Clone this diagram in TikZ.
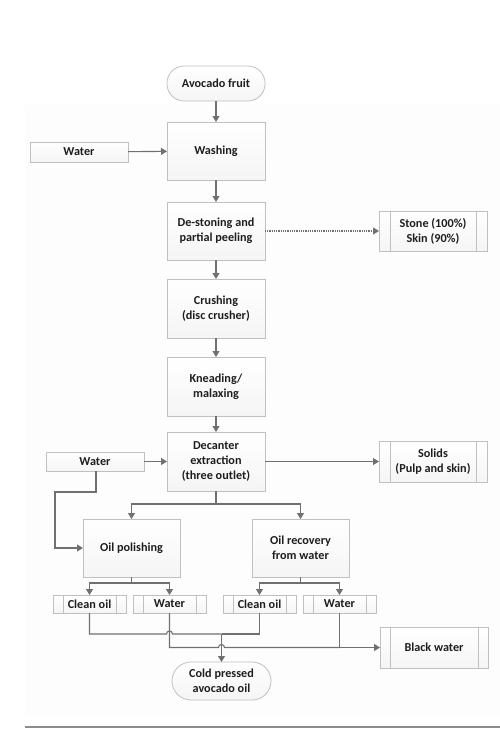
\documentclass[tikz,border=0pt]{standalone}
\usepackage{fontspec}
\setmainfont{Carlito}
\usetikzlibrary{arrows.meta,positioning}
\definecolor{lin}{HTML}{707070}
\definecolor{bord}{HTML}{C0C0C0}
\definecolor{txt}{HTML}{1E1E1E}
\definecolor{bg}{HTML}{FDFDFD}
\tikzset{
  base/.style={draw=bord, line width=0.8pt, top color=white, bottom color=black!4,
    align=center, text=txt, font=\fontsize{12.2}{15}\selectfont\bfseries,
    inner sep=0pt, outer sep=0pt},
  proc/.style={base, minimum width=98pt, minimum height=58pt},
  term/.style={base, rounded corners=17pt, minimum width=98pt, minimum height=35pt},
  inbox/.style={base, minimum width=98pt, minimum height=20pt},
  pred/.style={base, path picture={
      \draw[bord, line width=0.8pt] ([xshift=#1]path picture bounding box.north west) -- ([xshift=#1]path picture bounding box.south west);
      \draw[bord, line width=0.8pt] ([xshift=-#1]path picture bounding box.north east) -- ([xshift=-#1]path picture bounding box.south east);}},
  flow/.style={draw=lin, line width=1.1pt},
  arr/.style={flow, -{Triangle[length=6pt,width=7pt]}},
}
\begin{document}
\begin{tikzpicture}[x=1pt,y=-1pt]
\useasboundingbox (0,0) rectangle (500,729);
\fill[bg] (25,105) rectangle (500,716);
\draw[black!45, line width=1.2pt] (25,727) -- (500,727);

% main column
\node[term] (fruit) at (216,83.5) {Avocado fruit};
\node[proc] (wash) at (216,151) {Washing};
\node[inbox] (water1) at (79,152) {Water};
\node[proc] (destone) at (216,231) {De-stoning and\\partial peeling};
\node[pred=11pt, minimum width=108pt, minimum height=40pt] (stone) at (433,231) {Stone (100\%)\\Skin (90\%)};
\node[proc, minimum height=59pt] (crush) at (216,308.5) {Crushing\\(disc crusher)};
\node[proc, minimum height=59pt] (knead) at (216,386.5) {Kneading/\\malaxing};
\node[proc, minimum height=59pt] (decant) at (216,461.5) {Decanter\\extraction\\(three outlet)};
\node[inbox, minimum height=19pt] (water2) at (95,461.5) {Water};
\node[pred=11pt, minimum width=108pt, minimum height=41pt] (solids) at (433,461.5) {Solids\\(Pulp and skin)};

% second level
\node[proc, minimum width=97pt] (polish) at (131.5,548) {Oil polishing};
\node[proc, minimum width=97pt] (recov) at (300.5,548) {Oil recovery\\from water};

\node[pred=10pt, minimum width=73pt, minimum height=18pt] (clean1) at (89.5,604) {Clean oil};
\node[pred=10pt, minimum width=73pt, minimum height=18pt] (wat3) at (169.5,604) {Water};
\node[pred=10pt, minimum width=73pt, minimum height=18pt] (clean2) at (259.5,604) {Clean oil};
\node[pred=10pt, minimum width=73pt, minimum height=18pt] (wat4) at (339.5,604) {Water};

\node[pred=10pt, minimum width=108pt, minimum height=41pt] (black) at (434,647.5) {Black water};
\node[term, minimum width=99pt, minimum height=38pt, rounded corners=19pt] (cold) at (221.5,681) {Cold pressed\\avocado oil};

% connectors
\draw[arr] (fruit) -- (wash);
\draw[arr] (water1) -- (wash);
\draw[arr] (wash) -- (destone);
\draw[arr, dash pattern=on 1pt off 0.8pt] (destone) -- (stone);
\draw[arr] (destone) -- (crush);
\draw[arr] (crush) -- (knead);
\draw[arr] (knead) -- (decant);
\draw[arr] (water2) -- (decant);
\draw[arr] (decant) -- (solids);

\coordinate (dsplit) at (216,504);
\draw[flow] (decant.south) -- (dsplit);
\draw[arr] (dsplit) -- (131.5,504) -- (polish.north);
\draw[arr] (dsplit) -- (300.5,504) -- (recov.north);

\draw[arr] (water2.south -| 96,0) -- (96,492) -- (55,492) -- (55,548) -- (polish.west);

\coordinate (psplit) at (131.5,583);
\draw[flow] (polish.south) -- (psplit);
\draw[arr] (psplit) -- (89.5,583) -- (clean1.north);
\draw[arr] (psplit) -- (169.5,583) -- (wat3.north);
\coordinate (rsplit) at (300.5,583);
\draw[flow] (recov.south) -- (rsplit);
\draw[arr] (rsplit) -- (259.5,583) -- (clean2.north);
\draw[arr] (rsplit) -- (339.5,583) -- (wat4.north);

% clean oil collection
\coordinate (oilj) at (221.5,634);
\draw[flow] (clean1.south) -- (89.5,634) -- (166.5,634) arc[start angle=180,end angle=0,radius=3pt] -- (oilj);
\draw[flow] (clean2.south) -- (259.5,634) -- (oilj);
\draw[arr] (oilj) -- (cold.north);

% water collection
\coordinate (watj) at (339.5,647.5);
\draw[flow] (wat3.south) -- (169.5,647.5) -- (218.5,647.5) arc[start angle=180,end angle=0,radius=3pt] -- (watj);
\draw[flow] (wat4.south) -- (watj);
\draw[arr] (watj) -- (black.west);
\end{tikzpicture}
\end{document}
